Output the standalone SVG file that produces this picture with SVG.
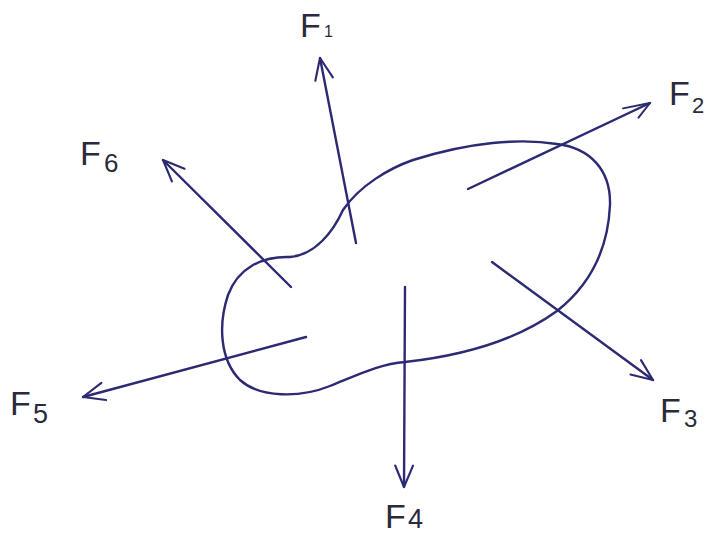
<svg xmlns="http://www.w3.org/2000/svg" width="713" height="539" viewBox="0 0 713 539">
<defs>
<style>
.ln{fill:none;stroke:#2b2a72;stroke-width:2.4;stroke-linecap:round;stroke-linejoin:round}
.lb{font-family:"Liberation Sans",Arial,sans-serif;fill:#2a2a3c;font-size:34px}
</style>
<marker id="ah" markerUnits="userSpaceOnUse" markerWidth="50" markerHeight="40" refX="0" refY="0" viewBox="-28 -20 56 40" orient="auto" overflow="visible">
<path d="M -24 -10 L 0 0 L -24 10" fill="none" stroke="#2b2a72" stroke-width="2.4" stroke-linecap="round" stroke-linejoin="round"/>
</marker>
<marker id="ahl" markerUnits="userSpaceOnUse" markerWidth="60" markerHeight="40" refX="0" refY="0" viewBox="-36 -20 72 40" orient="auto" overflow="visible">
<path d="M -32 -8 L 0 0 L -20 10" fill="none" stroke="#2b2a72" stroke-width="2.4" stroke-linecap="round" stroke-linejoin="round"/>
</marker>
</defs>
<rect width="713" height="539" fill="#ffffff"/>
<g id="body">
<path class="ln" d="M 343 210 C 333 232, 315 255, 290 257 C 262 256, 238 268, 228 295 C 218 325, 220 360, 240 380 C 260 398, 300 398, 330 386 C 360 374, 380 364, 405 362 C 450 357, 510 345, 557 311 C 590 285, 608 250, 610 205 C 611 170, 590 148, 557 144 C 520 138, 470 142, 413 160 C 390 168, 360 185, 343 210 Z"/>
</g>
<g id="connectors">
<line id="a1" class="ln" x1="356" y1="243" x2="320" y2="58" marker-end="url(#ah)"/>
<line id="a2" class="ln" x1="468" y1="189" x2="650" y2="103" marker-end="url(#ahl)"/>
<line id="a3" class="ln" x1="492" y1="262" x2="653" y2="380" marker-end="url(#ah)"/>
<line id="a4" class="ln" x1="405" y1="287" x2="404" y2="487" marker-end="url(#ah)"/>
<line id="a5" class="ln" x1="306" y1="337" x2="83" y2="397" marker-end="url(#ah)"/>
<line id="a6" class="ln" x1="291" y1="287" x2="163" y2="160" marker-end="url(#ah)"/>
</g>
<g id="F1"><text class="lb" x="300" y="37">F<tspan x="324" y="37" font-size="16">1</tspan></text></g>
<g id="F2"><text class="lb" x="669" y="105">F<tspan x="692" y="113" font-size="22">2</tspan></text></g>
<g id="F3"><text class="lb" x="660" y="422">F<tspan x="684" y="427" font-size="24">3</tspan></text></g>
<g id="F4"><text class="lb" x="385" y="528">F<tspan x="408" y="528" font-size="27">4</tspan></text></g>
<g id="F5"><text class="lb" x="10" y="415">F<tspan x="33" y="423" font-size="27">5</tspan></text></g>
<g id="F6"><text class="lb" x="80" y="165">F<tspan x="104" y="172" font-size="26">6</tspan></text></g>
</svg>
